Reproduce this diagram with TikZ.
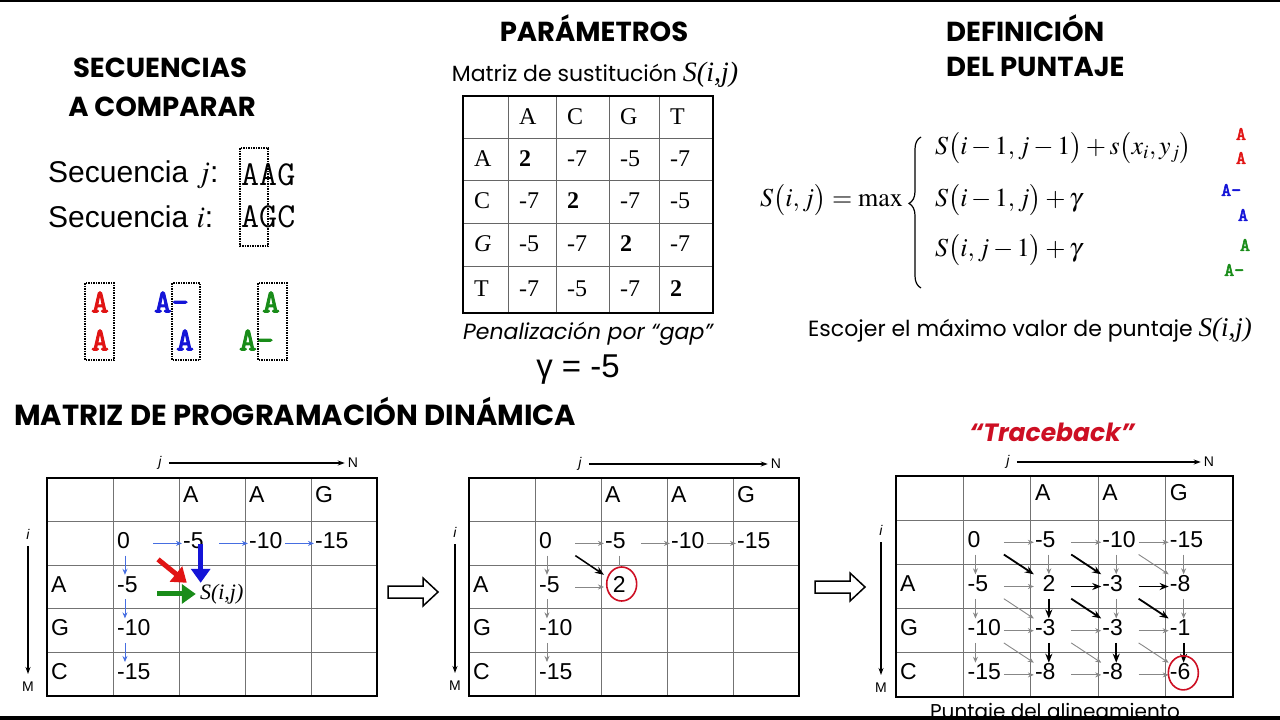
\documentclass[tikz,border=0pt]{standalone}
\usepackage{mathptmx}
\usepackage[no-math]{fontspec}
\usepackage[]{amsmath}
\newfontfamily\futura{Poppins}
\newfontfamily\arialf{Liberation Sans}
\newfontfamily\timesf{Liberation Serif}
\newfontfamily\courb{lmmono10-regular.otf}[FakeBold=3]
\usetikzlibrary{positioning}
\usetikzlibrary{decorations.pathreplacing}
\usetikzlibrary{arrows.meta}
\usetikzlibrary{shapes.geometric}

\definecolor{seqred}{RGB}{225,20,20}
\definecolor{seqblue}{RGB}{20,20,215}
\definecolor{seqgreen}{RGB}{25,140,25}
\definecolor{tbred}{RGB}{205,15,35}
\definecolor{lnblue}{RGB}{70,110,225}
\definecolor{lngray}{RGB}{135,135,135}

\tikzset{
  ttl/.style={font=\futura\bfseries\fontsize{27.5}{30}\selectfont, inner sep=0pt},
  trb/.style={font=\futura\bfseries\itshape\fontsize{25}{28}\selectfont, text=tbred, inner sep=0pt},
  subttl/.style={font=\futura\fontsize{22}{26}\selectfont, inner sep=0pt},
  seqlbl/.style={font=\arialf\fontsize{30}{34}\selectfont, anchor=west, inner sep=0pt},
  seqtxt/.style={font=\ttfamily\fontsize{35}{36}\selectfont, anchor=west, inner sep=0pt},
  alnch/.style={font=\courb\fontsize{33}{33}\selectfont, inner sep=0pt},
  lblch/.style={font=\courb\fontsize{19}{19}\selectfont, inner sep=0pt},
  dotbox/.style={draw, densely dotted, line width=1.5pt},
  fml/.style={font=\fontsize{26}{30}\selectfont, anchor=west, inner sep=0pt},
  subval/.style={font=\timesf\fontsize{24}{26}\selectfont, anchor=west, inner sep=0pt},
  tline/.style={draw=black!60, line width=1pt},
  tframe/.style={draw=black, line width=1.5pt},
  dline/.style={draw=black!55, line width=1pt},
  dframe/.style={draw=black, line width=1.6pt},
  dpval/.style={font=\arialf\fontsize{23}{23}\selectfont, anchor=west, inner sep=1pt, text width=35pt, text height=16pt, text depth=6pt, execute at begin node={\exhyphenpenalty=10000\relax}},
  axlbl/.style={font=\arialf\fontsize{14}{14}\selectfont, inner sep=2pt},
  axit/.style={font=\arialf\itshape\fontsize{14}{14}\selectfont, inner sep=2pt},
  axarr/.style={-{Stealth[length=7pt,width=5pt]}, line width=1.2pt, shorten <=5pt, shorten >=1pt},
  barr/.style={-{Stealth[length=6pt,width=5pt]}, lnblue, line width=0.9pt},
  garr/.style={-{Stealth[length=6pt,width=5pt]}, lngray, line width=0.9pt},
  karr/.style={-{Stealth[length=9pt,width=7pt]}, black, line width=1.8pt},
  fatarr/.style={-{Triangle[length=14pt,width=19pt]}, line width=5pt},
  hollow/.style={draw=black, line width=1.5pt, fill=white},
  redcirc/.style={ellipse, draw=tbred, line width=1.6pt, minimum width=30pt, minimum height=34pt, inner sep=0pt},
}

\begin{document}
\begin{tikzpicture}[x=1pt,y=-1pt]
    \useasboundingbox (0,0) rectangle (1280,720);
    \fill[black] (0,0) rectangle (1280,2);

    % secuencias
    \node[ttl] (tsec) at (160,68) {SECUENCIAS};
    \node[ttl] (tcomp) at (162,107) {A COMPARAR};
    \node[seqlbl] (lj) at (48,175) {Secuencia $j$:};
    \node[seqlbl] (li) at (48,217) {Secuencia $i$:};
    \node[seqtxt] (sj) at (241,175) {AAG};
    \node[seqtxt] (si) at (241,217) {AGC};
    \draw[dotbox] (240,148) rectangle (268,246);

    \node[alnch, seqred] (ra1) at (100,302) {A};
    \node[alnch, seqred] (ra2) at (100,340) {A};
    \draw[dotbox] (85,283) rectangle (114,360);
    \node[alnch, seqblue, anchor=west] (ba1) at (154,302) {A-};
    \node[alnch, seqblue] (ba2) at (185,340) {A};
    \draw[dotbox] (172,283) rectangle (200,360);
    \node[alnch, seqgreen] (ga1) at (271,302) {A};
    \node[alnch, seqgreen, anchor=west] (ga2) at (239,340) {A-};
    \draw[dotbox] (258,283) rectangle (287,360);

    % parametros
    \node[ttl] (tpar) at (594,28) {PARÁMETROS};
    \node[subttl] (tmat) at (595,75) {Matriz de sustitución {\timesf\itshape\fontsize{28}{28}\selectfont S(i,j)}};
    \foreach \x in {508,556,609,659} \draw[tline] (\x,96) -- (\x,313);
    \foreach \y in {138,180,223,266} \draw[tline] (463,\y) -- (713,\y);
    \draw[tframe] (463,96) rectangle (713,313);
    \node[subval] (s-0-1) at (519,117) {A};
    \node[subval] (s-0-2) at (567,117) {C};
    \node[subval] (s-0-3) at (620,117) {G};
    \node[subval] (s-0-4) at (670,117) {T};
    \node[subval] (s-1-0) at (474,159) {A};
    \node[subval] (s-1-1) at (519,159) {\textbf{2}};
    \node[subval] (s-1-2) at (567,159) {-7};
    \node[subval] (s-1-3) at (620,159) {-5};
    \node[subval] (s-1-4) at (670,159) {-7};
    \node[subval] (s-2-0) at (474,201) {C};
    \node[subval] (s-2-1) at (519,201) {-7};
    \node[subval] (s-2-2) at (567,201) {\textbf{2}};
    \node[subval] (s-2-3) at (620,201) {-7};
    \node[subval] (s-2-4) at (670,201) {-5};
    \node[subval] (s-3-0) at (474,244) {\itshape G};
    \node[subval] (s-3-1) at (519,244) {-5};
    \node[subval] (s-3-2) at (567,244) {-7};
    \node[subval] (s-3-3) at (620,244) {\textbf{2}};
    \node[subval] (s-3-4) at (670,244) {-7};
    \node[subval] (s-4-0) at (474,289) {T};
    \node[subval] (s-4-1) at (519,289) {-7};
    \node[subval] (s-4-2) at (567,289) {-5};
    \node[subval] (s-4-3) at (620,289) {-7};
    \node[subval] (s-4-4) at (670,289) {\textbf{2}};
    \node[subttl, font=\futura\itshape\fontsize{22}{26}\selectfont] (tpen) at (588,334) {Penalización por “gap”};
    \node[font=\arialf\fontsize{33}{33}\selectfont, inner sep=0pt] (tgam) at (578,370) {γ = -5};

    % definicion del puntaje
    \node[ttl, anchor=west] (tdef) at (946,28) {DEFINICIÓN};
    \node[ttl, anchor=west] (tpun) at (946,67) {DEL PUNTAJE};
    \node[fml, anchor=east] (lhs) at (903,200) {$S\bigl(i,j\bigr)=\max$};
    \draw[decorate, decoration={brace, amplitude=12pt, aspect=0.56}, line width=1.2pt] (921,288) -- (921,137);
    \node[fml] (f1) at (935,148) {$S\bigl(i-1,j-1\bigr)+s\bigl(x_i,y_j\bigr)$};
    \node[fml] (f2) at (935,200) {$S\bigl(i-1,j\bigr)+\gamma$};
    \node[fml] (f3) at (935,250) {$S\bigl(i,j-1\bigr)+\gamma$};
    \node[lblch, seqred] (la1) at (1241,134) {A};
    \node[lblch, seqred] (la2) at (1241,158) {A};
    \node[lblch, seqblue, anchor=west] (lb1) at (1221,190) {A-};
    \node[lblch, seqblue] (lb2) at (1243,215) {A};
    \node[lblch, seqgreen] (lc1) at (1245,245) {A};
    \node[lblch, seqgreen, anchor=west] (lc2) at (1224,270) {A-};
    \node[subttl, anchor=west] (tesc) at (808,330) {Escojer el máximo valor de puntaje {\timesf\itshape\fontsize{27}{27}\selectfont S(i,j)}};

    % matriz de programacion dinamica
    \node[ttl, font=\futura\bfseries\fontsize{29}{30}\selectfont, anchor=west] (tdp) at (14,411) {MATRIZ DE PROGRAMACIÓN DINÁMICA};
    \node[trb] (ttrb) at (1052,432) {“Traceback”};

    % primera matriz
    \node[axit] (j1) at (160,463) {j};
    \node[axlbl] (n1) at (353,463) {N};
    \draw[axarr] (j1) -- (n1);
    \node[axit] (i1) at (28,534) {i};
    \node[axlbl] (mm1) at (28,687) {M};
    \draw[axarr, shorten >=6pt] (i1) -- (mm1);
    \begin{scope}[shift={(47,478)}, x=66pt, y=-43.6pt]
        \foreach \c in {1,...,4} \draw[dline] (\c,0) -- (\c,5);
        \foreach \r in {1,...,4} \draw[dline] (0,\r) -- (5,\r);
        \draw[dframe] (0,0) rectangle (5,5);
        \node[dpval] (p-0-2) at (2.045,0.44) {A};
        \node[dpval] (p-0-3) at (3.045,0.44) {A};
        \node[dpval] (p-0-4) at (4.045,0.44) {G};
        \node[dpval] (p-2-0) at (0.045,2.5) {A};
        \node[dpval] (p-3-0) at (0.045,3.5) {G};
        \node[dpval] (p-4-0) at (0.045,4.5) {C};
        \node[dpval] (p-1-1) at (1.045,1.5) {0};
        \node[dpval] (p-1-2) at (2.045,1.5) {-5};
        \node[dpval] (p-1-3) at (3.045,1.5) {-10};
        \node[dpval] (p-1-4) at (4.045,1.5) {-15};
        \node[dpval] (p-2-1) at (1.045,2.5) {-5};
        \node[dpval] (p-3-1) at (1.045,3.5) {-10};
        \node[dpval] (p-4-1) at (1.045,4.5) {-15};
        \node[font=\timesf\itshape\fontsize{22}{22}\selectfont, anchor=west, inner sep=1pt] (sij) at (2.3,2.66) {S(i,j)};
    \end{scope}
    \draw[barr] (p-1-1) -- (p-1-2);
    \draw[barr] (p-1-2) -- (p-1-3);
    \draw[barr] (p-1-3) -- (p-1-4);
    \draw[barr] ([xshift=9pt]p-1-1.south west) -- ([xshift=9pt]p-2-1.north west);
    \draw[barr] ([xshift=9pt]p-2-1.south west) -- ([xshift=9pt]p-3-1.north west);
    \draw[barr] ([xshift=9pt]p-3-1.south west) -- ([xshift=9pt]p-4-1.north west);
    \draw[fatarr, seqred, shorten <=6pt] (p-1-1.south east) -- ([xshift=-12pt]sij.north west);
    \draw[fatarr, seqblue] ([yshift=-1pt]p-1-2.center) -- (p-1-2.center |- sij.north);
    \draw[fatarr, seqgreen, shorten <=4pt, shorten >=3pt] (p-2-1.east |- sij.west) -- (sij.west);

    \draw[hollow] (388,586) -- (423,586) -- (423,578) -- (438,592) -- (423,606) -- (423,598) -- (388,598) -- cycle;

    % segunda matriz
    \node[axit] (j2) at (580,464) {j};
    \node[axlbl] (n2) at (776,464) {N};
    \draw[axarr] (j2) -- (n2);
    \node[axit] (i2) at (455,532) {i};
    \node[axlbl] (mm2) at (455,686) {M};
    \draw[axarr, shorten >=6pt] (i2) -- (mm2);
    \begin{scope}[shift={(469,478)}, x=66pt, y=-43.6pt]
        \foreach \c in {1,...,4} \draw[dline] (\c,0) -- (\c,5);
        \foreach \r in {1,...,4} \draw[dline] (0,\r) -- (5,\r);
        \draw[dframe] (0,0) rectangle (5,5);
        \node[dpval] (q-0-2) at (2.045,0.44) {A};
        \node[dpval] (q-0-3) at (3.045,0.44) {A};
        \node[dpval] (q-0-4) at (4.045,0.44) {G};
        \node[dpval] (q-2-0) at (0.045,2.5) {A};
        \node[dpval] (q-3-0) at (0.045,3.5) {G};
        \node[dpval] (q-4-0) at (0.045,4.5) {C};
        \node[dpval] (q-1-1) at (1.045,1.5) {0};
        \node[dpval] (q-1-2) at (2.045,1.5) {-5};
        \node[dpval] (q-1-3) at (3.045,1.5) {-10};
        \node[dpval] (q-1-4) at (4.045,1.5) {-15};
        \node[dpval] (q-2-1) at (1.045,2.5) {-5};
        \node[dpval] (q-2-2) at (2.045,2.5) {\phantom{-}2};
        \node[dpval] (q-3-1) at (1.045,3.5) {-10};
        \node[dpval] (q-4-1) at (1.045,4.5) {-15};
    \end{scope}
    \node[redcirc] (q-best) at ([xshift=-1pt,yshift=3pt]q-2-2.center) {};
    \draw[garr] (q-1-1) -- (q-1-2);
    \draw[garr] (q-1-2) -- (q-1-3);
    \draw[garr] (q-1-3) -- (q-1-4);
    \draw[garr] (q-2-1) -- (q-2-2);
    \draw[garr] ([xshift=9pt]q-1-1.south west) -- ([xshift=9pt]q-2-1.north west);
    \draw[garr] ([xshift=9pt]q-2-1.south west) -- ([xshift=9pt]q-3-1.north west);
    \draw[garr] ([xshift=9pt]q-3-1.south west) -- ([xshift=9pt]q-4-1.north west);
    \draw[lngray, line width=0.9pt] ([xshift=15pt]q-1-2.south west) -- ([xshift=15pt]q-1-2.south west |- q-best.north);
    \draw[karr, line width=1.5pt] (q-1-1.south east) -- (q-2-2.north west);

    \draw[hollow] (815,581) -- (850,581) -- (850,573) -- (865,587) -- (850,601) -- (850,593) -- (815,593) -- cycle;

    % tercera matriz (traceback)
    \node[axit] (j3) at (1008,462) {j};
    \node[axlbl] (n3) at (1209,462) {N};
    \draw[axarr] (j3) -- (n3);
    \node[axit] (i3) at (881,530) {i};
    \node[axlbl] (mm3) at (881,688) {M};
    \draw[axarr, shorten >=6pt] (i3) -- (mm3);
    \begin{scope}[shift={(896,476)}, x=67.4pt, y=-44.2pt]
        \foreach \c in {1,...,4} \draw[dline] (\c,0) -- (\c,5);
        \foreach \r in {1,...,4} \draw[dline] (0,\r) -- (5,\r);
        \draw[dframe] (0,0) rectangle (5,5);
        \node[dpval] (t-0-2) at (2.045,0.44) {A};
        \node[dpval] (t-0-3) at (3.045,0.44) {A};
        \node[dpval] (t-0-4) at (4.045,0.44) {G};
        \node[dpval] (t-2-0) at (0.045,2.5) {A};
        \node[dpval] (t-3-0) at (0.045,3.5) {G};
        \node[dpval] (t-4-0) at (0.045,4.5) {C};
        \node[dpval] (t-1-1) at (1.045,1.5) {0};
        \node[dpval] (t-1-2) at (2.045,1.5) {-5};
        \node[dpval] (t-1-3) at (3.045,1.5) {-10};
        \node[dpval] (t-1-4) at (4.045,1.5) {-15};
        \node[dpval] (t-2-1) at (1.045,2.5) {-5};
        \node[dpval] (t-2-2) at (2.045,2.5) {\phantom{-}2};
        \node[dpval] (t-2-3) at (3.045,2.5) {-3};
        \node[dpval] (t-2-4) at (4.045,2.5) {-8};
        \node[dpval] (t-3-1) at (1.045,3.5) {-10};
        \node[dpval] (t-3-2) at (2.045,3.5) {-3};
        \node[dpval] (t-3-3) at (3.045,3.5) {-3};
        \node[dpval] (t-3-4) at (4.045,3.5) {-1};
        \node[dpval] (t-4-1) at (1.045,4.5) {-15};
        \node[dpval] (t-4-2) at (2.045,4.5) {-8};
        \node[dpval] (t-4-3) at (3.045,4.5) {-8};
        \node[dpval] (t-4-4) at (4.045,4.5) {-6};
    \end{scope}
    \draw[garr] (t-1-1) -- (t-1-2);
    \draw[garr] (t-1-2) -- (t-1-3);
    \draw[garr] (t-1-3) -- (t-1-4);
    \draw[garr] (t-2-1) -- (t-2-2);
    \draw[garr] (t-3-1) -- (t-3-2);
    \draw[garr] (t-3-2) -- (t-3-3);
    \draw[garr] (t-3-3) -- (t-3-4);
    \draw[garr] (t-4-1) -- (t-4-2);
    \draw[garr] (t-4-2) -- (t-4-3);
    \draw[garr] (t-4-3) -- (t-4-4);
    \draw[garr] ([xshift=9pt]t-1-1.south west) -- ([xshift=9pt]t-2-1.north west);
    \draw[garr] ([xshift=9pt]t-2-1.south west) -- ([xshift=9pt]t-3-1.north west);
    \draw[garr] ([xshift=9pt]t-3-1.south west) -- ([xshift=9pt]t-4-1.north west);
    \draw[garr] ([xshift=15pt]t-1-2.south west) -- ([xshift=15pt]t-2-2.north west);
    \draw[garr] ([xshift=15pt]t-1-3.south west) -- ([xshift=15pt]t-2-3.north west);
    \draw[garr] ([xshift=15pt]t-2-3.south west) -- ([xshift=15pt]t-3-3.north west);
    \draw[garr] ([xshift=15pt]t-1-4.south west) -- ([xshift=15pt]t-2-4.north west);
    \draw[garr] ([xshift=15pt]t-2-4.south west) -- ([xshift=15pt]t-3-4.north west);
    \draw[garr] (t-1-3.south east) -- (t-2-4.north west);
    \draw[garr] (t-2-1.south east) -- (t-3-2.north west);
    \draw[garr] (t-3-1.south east) -- (t-4-2.north west);
    \draw[garr] (t-3-2.south east) -- (t-4-3.north west);
    \draw[garr] (t-3-3.south east) -- (t-4-4.north west);
    \draw[karr] (t-1-1.south east) -- (t-2-2.north west);
    \draw[karr] (t-1-2.south east) -- (t-2-3.north west);
    \draw[karr] (t-2-2.south east) -- (t-3-3.north west);
    \draw[karr] (t-2-3.south east) -- (t-3-4.north west);
    \draw[karr] (t-2-2) -- (t-2-3);
    \draw[karr] (t-2-3) -- (t-2-4);
    \draw[karr] ([xshift=15pt]t-2-2.south west) -- ([xshift=15pt]t-3-2.north west);
    \draw[karr] ([xshift=15pt]t-3-2.south west) -- ([xshift=15pt]t-4-2.north west);
    \draw[karr] ([xshift=15pt]t-3-3.south west) -- ([xshift=15pt]t-4-3.north west);
    \draw[karr] ([xshift=15pt]t-3-4.south west) -- ([xshift=15pt]t-4-4.north west);
    \node[redcirc] (t-best) at ([xshift=-4pt,yshift=2pt]t-4-4.center) {};
    \node[subttl, font=\futura\fontsize{20}{22}\selectfont, anchor=base] (tpunt) at (1055,718) {Puntaje del alineamiento};

    \fill[black] (0,716) rectangle (1280,720);
\end{tikzpicture}
\end{document}
